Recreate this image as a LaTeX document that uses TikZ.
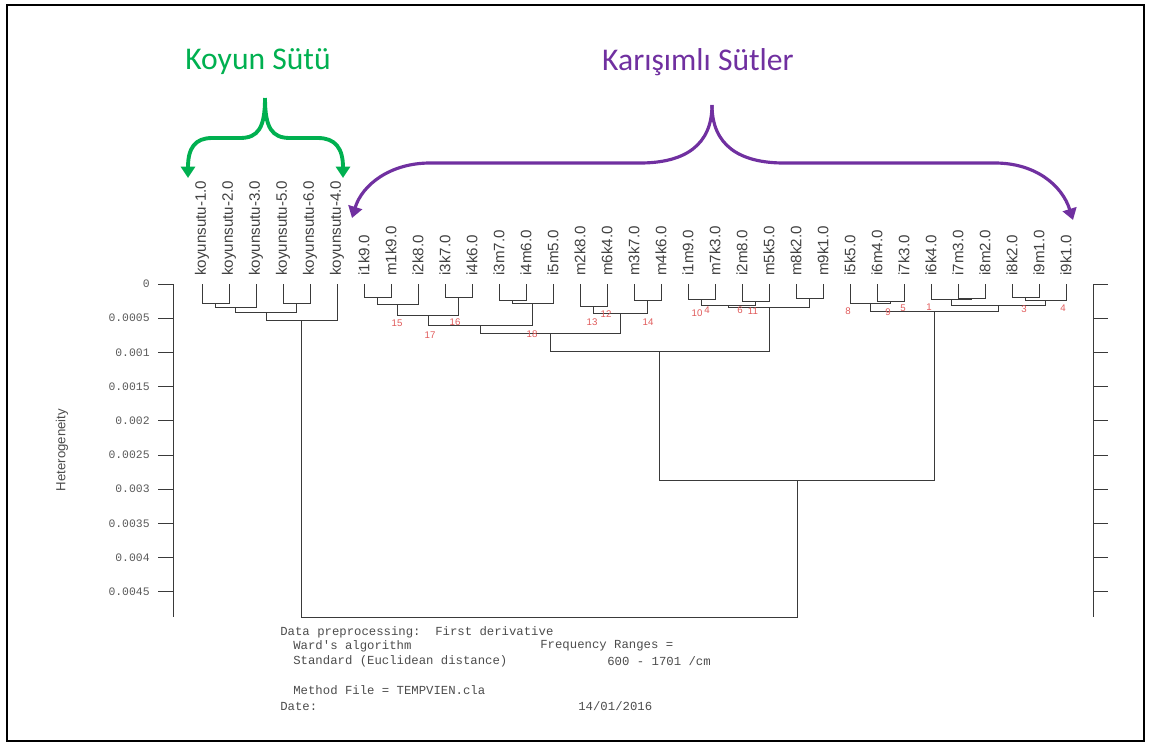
\documentclass[tikz,border=0pt]{standalone}
\usepackage{fontspec}
\setmainfont{Liberation Sans}
\newfontfamily\printfont{Liberation Mono}
\newfontfamily\headfont{Carlito}
\usetikzlibrary{arrows.meta}

\definecolor{koyungreen}{HTML}{00B050}
\definecolor{mixpurple}{HTML}{7030A0}
\definecolor{treegray}{HTML}{3A3A3A}
\definecolor{numred}{HTML}{E05A5A}

\tikzset{
  leaf/.style={rotate=90, anchor=west, inner sep=0pt, text=black!75, font=\fontsize{8.6}{9}\selectfont},
  branch/.style={draw=treegray, line width=0.5pt},
  mergenum/.style={inner sep=0pt, text=numred, font=\fontsize{5.5}{6}\selectfont},
  ticklabel/.style={anchor=east, inner sep=0pt, text=black!65, font=\printfont\fontsize{6.5}{7}\selectfont},
  printout/.style={anchor=west, inner sep=0pt, text=black!70, font=\printfont\fontsize{7}{8}\selectfont},
  heading/.style={inner sep=0pt, font=\headfont\fontsize{18}{20}\selectfont},
  brace/.style={line width=2.2pt, -{Triangle[width=8pt,length=6.5pt]}},
}

\begin{document}
\begin{tikzpicture}[x=0.02cm, y=-0.02cm]
    \useasboundingbox (0,0) rectangle (1152,745);
    \draw[line width=1.4pt] (7,5) rectangle (1144,741);

    % Group headings
    \node[heading, text=koyungreen] (koyun) at (258,62) {Koyun Sütü};
    \node[heading, text=mixpurple] (karisim) at (698,62) {Karışımlı Sütler};

    % Braces
    \coordinate (koyuntop) at (265,98);
    \coordinate (koyunleft) at (188,178);
    \coordinate (koyunright) at (343,178);
    \draw[brace, koyungreen] (koyuntop) .. controls (265,128) and (258,138) .. (240,138) -- (212,138)
        .. controls (195,138) and (188,148) .. (koyunleft);
    \draw[brace, koyungreen] (koyuntop) .. controls (265,128) and (272,138) .. (290,138) -- (318,138)
        .. controls (335,138) and (343,148) .. (koyunright);
    \coordinate (karisimtop) at (712,105);
    \coordinate (karisimleft) at (352,218);
    \coordinate (karisimright) at (1073,220);
    \draw[brace, mixpurple, line width=1.8pt] (karisimtop) .. controls (712,145) and (685,163) .. (640,163) -- (430,163)
        .. controls (390,163) and (362,185) .. (karisimleft);
    \draw[brace, mixpurple, line width=1.8pt] (karisimtop) .. controls (712,145) and (739,163) .. (784,163) -- (995,163)
        .. controls (1035,163) and (1062,185) .. (karisimright);

    % Leaves
    \foreach \name [count=\i from 0] in {koyunsutu-1.0,koyunsutu-2.0,koyunsutu-3.0,koyunsutu-5.0,
        koyunsutu-6.0,koyunsutu-4.0,i1k9.0,m1k9.0,i2k8.0,i3k7.0,i4k6.0,i3m7.0,i4m6.0,i5m5.0,
        m2k8.0,m6k4.0,m3k7.0,m4k6.0,i1m9.0,m7k3.0,i2m8.0,m5k5.0,m8k2.0,m9k1.0,i5k5.0,i6m4.0,
        i7k3.0,i6k4.0,i7m3.0,i8m2.0,i8k2.0,i9m1.0,i9k1.0}
        \node[leaf] (leaf\i) at ({202+27*\i},276) {\name};

    % Axes
    \draw[treegray] (173,284) -- (173,617);
    \draw[treegray] (1093,284) -- (1093,617);
    \foreach \v [count=\k from 0] in {0,0.0005,0.001,0.0015,0.002,0.0025,0.003,0.0035,0.004,0.0045} {
        \draw[treegray] (158,{284+34.2*\k}) -- (173,{284+34.2*\k});
        \draw[treegray] (1093,{284+34.2*\k}) -- (1108,{284+34.2*\k});
        \node[ticklabel] (tick\k) at (150,{284+34.2*\k}) {\v};
    }
    \node[rotate=90, text=black!70, font=\fontsize{7.5}{8}\selectfont] (ylabel) at (62,450) {Heterogeneity};

    % Koyun cluster
    \draw[branch] (202,284) |- (229,303) -- (229,284);
    \draw[branch] (215.5,303) |- (256,307) -- (256,284);
    \draw[branch] (283,284) |- (310,303) -- (310,284);
    \draw[branch] (235.75,307) |- (296.5,312) -- (296.5,303);
    \draw[branch] (266,312) |- (337,320) -- (337,284);

    % Mixed cluster, left part
    \draw[branch] (364,284) |- (391,297) -- (391,284);
    \draw[branch] (377.5,297) |- (418,304) -- (418,284);
    \draw[branch] (445,284) |- (472,297) -- (472,284);
    \draw[branch] (397.75,304) |- (458.5,315) -- (458.5,297);
    \draw[branch] (499,284) |- (526,300) -- (526,284);
    \draw[branch] (512.5,300) |- (553,303) -- (553,284);
    \draw[branch] (428,315) |- (532.75,325) -- (532.75,303);
    \draw[branch] (580,284) |- (607,306) -- (607,284);
    \draw[branch] (634,284) |- (661,300) -- (661,284);
    \draw[branch] (593.5,306) |- (647.5,313) -- (647.5,300);
    \draw[branch] (480.4,325) |- (620.5,333) -- (620.5,313);

    % Mixed cluster, middle part
    \draw[branch] (688,284) |- (715,299) -- (715,284);
    \draw[branch] (742,284) |- (769,301) -- (769,284);
    \draw[branch] (701.5,299) |- (755.5,305) -- (755.5,301);
    \draw[branch] (796,284) |- (823,298) -- (823,284);
    \draw[branch] (728.5,305) |- (809.5,307) -- (809.5,298);
    \draw[branch] (550.5,333) |- (769,351) -- (769,307);

    % Mixed cluster, right part
    \draw[branch] (877,284) |- (904,301) -- (904,284);
    \draw[branch] (850,284) |- (890.5,303) -- (890.5,301);
    \draw[branch] (958,284) |- (985,298.5) -- (985,284);
    \draw[branch] (931,284) |- (971.5,299.5) -- (971.5,298.5);
    \draw[branch] (1012,284) |- (1039,297) -- (1039,284);
    \draw[branch] (1025.5,297) |- (1066,300) -- (1066,284);
    \draw[branch] (951.25,299.5) |- (1045.75,305) -- (1045.75,300);
    \draw[branch] (870.25,303) |- (998.5,311.5) -- (998.5,305);

    % Top joins
    \draw[branch] (659.75,351) |- (934.4,480) -- (934.4,311.5);
    \draw[branch] (301.5,320) |- (797,617) -- (797,480);

    % Merge numbers
    \node[mergenum] (n15) at (397,323) {15};
    \node[mergenum] (n16) at (455,322) {16};
    \node[mergenum] (n17) at (430,335) {17};
    \node[mergenum] (n18) at (532,334) {18};
    \node[mergenum] (n13) at (592,322) {13};
    \node[mergenum] (n12) at (606,314) {12};
    \node[mergenum] (n14) at (648,322) {14};
    \node[mergenum] (n10) at (697,313) {10};
    \node[mergenum] (n4a) at (707,310) {4};
    \node[mergenum] (n6) at (740,310) {6};
    \node[mergenum] (n11) at (753,311) {11};
    \node[mergenum] (n8) at (848,311) {8};
    \node[mergenum] (n9) at (888,312) {9};
    \node[mergenum] (n5) at (903,308) {5};
    \node[mergenum] (n1) at (929,307) {1};
    \node[mergenum] (n3) at (1024,309) {3};
    \node[mergenum] (n4b) at (1063,308) {4};

    % Printout
    \node[printout] (prep) at (280,632) {Data preprocessing:\ \ First derivative};
    \node[printout] (algo) at (293,646) {Ward's algorithm};
    \node[printout] (freq) at (540,646) {Frequency Ranges =};
    \node[printout] (dist) at (293,661) {Standard (Euclidean distance)};
    \node[printout] (range) at (607,661) {600 - 1701 /cm};
    \node[printout] (method) at (293,690) {Method File = TEMPVIEN.cla};
    \node[printout] (datelbl) at (280,706) {Date:};
    \node[printout] (date) at (578,706) {14/01/2016};

\end{tikzpicture}
\end{document}
